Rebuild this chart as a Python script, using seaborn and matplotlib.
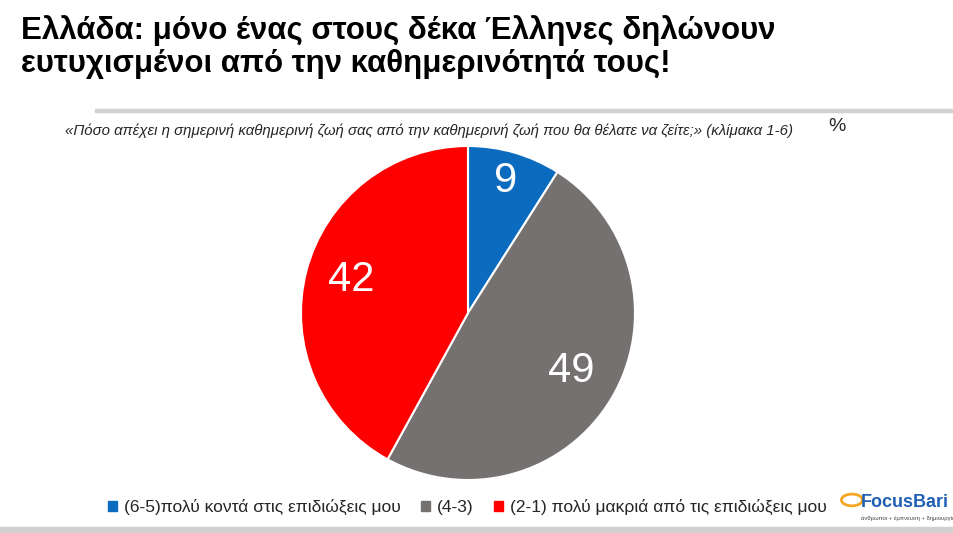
import matplotlib
matplotlib.use("Agg")
import matplotlib.pyplot as plt
import seaborn as sns
import numpy as np
from matplotlib.patches import Rectangle

sns.set_theme(style="white")
plt.rcParams['font.family'] = ['Liberation Sans', 'DejaVu Sans']

labels = ["(6-5)πολύ κοντά στις επιδιώξεις μου", "(4-3)", "(2-1) πολύ μακριά από τις επιδιώξεις μου"]
values = [9, 49, 42]
colors = ["#0a6bbf", "#767171", "#ff0000"]

fig = plt.figure(figsize=(9.54, 5.33), dpi=100)
fig.text(0.022, 0.972, "Ελλάδα: μόνο ένας στους δέκα Έλληνες δηλώνουν\nευτυχισμένοι από την καθημερινότητά τους!",
         fontsize=22.5, fontweight='bold', va='top', ha='left', linespacing=1.15, color='black')
fig.add_artist(Rectangle((0.1, 0.79), 0.9, 0.006, transform=fig.transFigure, color="#d0d0d0"))
fig.add_artist(Rectangle((0.0, 0.0), 1.0, 0.012, transform=fig.transFigure, color="#d0d0d0"))
fig.text(0.068, 0.755, "«Πόσο απέχει η σημερινή καθημερινή ζωή σας από την καθημερινή ζωή που θα θέλατε να ζείτε;» (κλίμακα 1-6)",
         fontsize=10.8, style='italic', va='center', ha='left')
fig.text(0.868, 0.762, "%", fontsize=14, va='center', ha='left')

size = 334 / 533
w = 334 / 954
ax = fig.add_axes([468/954 - w/2, 220/533 - size/2, w, size])
wedges, texts = ax.pie(values, colors=colors, startangle=90, counterclock=False,
                       wedgeprops=dict(edgecolor='white', linewidth=1.5))
theta = 90.0
for v, c in zip(values, colors):
    mid = np.deg2rad(theta - v * 3.6 / 2)
    r = 0.8 if v < 20 else 0.72
    ax.text(r * np.cos(mid), r * np.sin(mid) + 0.02, str(v), color='white', fontsize=30,
            ha='center', va='center')
    theta -= v * 3.6
ax.set_xlim(-1.0, 1.0)
ax.set_ylim(-1.0, 1.0)
ax.set_aspect('equal')

handles = [Rectangle((0, 0), 1, 1, color=c) for c in colors]
fig.legend(handles, labels, loc='center', bbox_to_anchor=(0.49, 0.048), ncol=3, frameon=False,
           fontsize=12.5, handlelength=0.5, handleheight=0.5, handletextpad=0.4, columnspacing=1.2)
fig.text(0.902, 0.058, "FocusBari", color="#1f5fb4", fontsize=13, fontweight='bold', va='center', ha='left')
fig.text(0.902, 0.027, "άνθρωποι + έμπνευση + δημιουργία", color="#444444", fontsize=4.2, va='center', ha='left')
fig.add_artist(plt.Circle((0.893, 0.062), 0.011, transform=fig.transFigure, fill=False, color="#f5a623", lw=2))

fig.savefig("out.png", dpi=100)
